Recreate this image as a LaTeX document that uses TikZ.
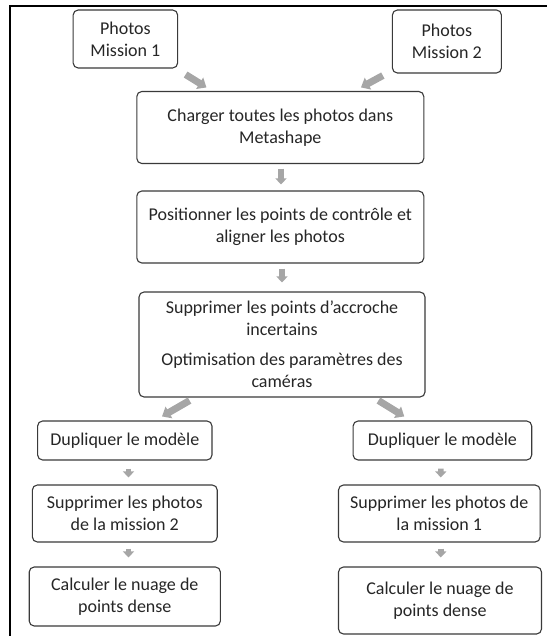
\documentclass[tikz,border=0pt]{standalone}
\usepackage{fontspec}
\setmainfont{Carlito}
\usetikzlibrary{arrows.meta,calc}
\definecolor{boxline}{HTML}{3A3A3A}
\definecolor{txt}{HTML}{262626}
\definecolor{arr}{HTML}{A6A6A6}
\begin{document}
\begin{tikzpicture}[x=1pt,y=-1pt,
  stepbox/.style={draw=boxline,line width=1.1pt,rounded corners=5pt,fill=white,
    align=center,text=txt,inner sep=0pt,
    font=\fontsize{18}{22}\selectfont},
  garrow/.style={draw=arr,line width=5.5pt,-{Triangle[width=11pt,length=6pt]}},
  darrow/.style={draw=arr,line width=7pt,-{Triangle[width=13pt,length=8pt]}}]
\useasboundingbox (0,0) rectangle (546,636);
\draw[line width=2.5pt,black] (10,640) -- (10,6) -- (550,6);

\node[stepbox,minimum width=104.5pt,minimum height=58pt] (m1) at (125.4,39) {Photos\\Mission 1};
\node[stepbox,minimum width=109pt,minimum height=63pt] (m2) at (446.9,41.5) {Photos\\Mission 2};
\node[stepbox,minimum width=287pt,minimum height=72pt] (charger) at (280.3,127.5) {Charger toutes les photos dans\\Metashape};
\node[stepbox,minimum width=287pt,minimum height=72pt] (pos) at (280.3,227) {Positionner les points de contrôle et\\aligner les photos};
\node[stepbox,minimum width=286pt,minimum height=105pt] (supp) at (282,344.5) {Supprimer les points d’accroche\\incertains\\[8pt]Optimisation des paramètres des\\caméras};
\node[stepbox,minimum width=174.4pt,minimum height=39pt] (dupL) at (124.8,440.5) {Dupliquer le modèle};
\node[stepbox,minimum width=178.6pt,minimum height=39pt] (dupR) at (442.4,440.5) {Dupliquer le modèle};
\node[stepbox,minimum width=184.9pt,minimum height=57pt] (suppL) at (124.8,513.5) {Supprimer les photos\\de la mission 2};
\node[stepbox,minimum width=201.6pt,minimum height=57pt] (suppR) at (439.3,513.5) {Supprimer les photos de\\la mission 1};
\node[stepbox,minimum width=191.2pt,minimum height=59pt] (calcL) at (124.8,596.5) {Calculer le nuage de\\points dense};
\node[stepbox,minimum width=203pt,minimum height=67pt] (calcR) at (440,600.5) {Calculer le nuage de\\points dense};

% diagonal arrows
\draw[darrow] ($(m1.south east)+(7.4,6)$) -- ($(charger.north west)+(70.2,-3.5)$);
\draw[darrow] ($(m2.south west)+(-9,2)$) -- ($(charger.north east)+(-63.4,-3.5)$);
\draw[darrow] ($(supp.south west)+(51.1,3)$) -- ($(dupL.north)+(37.2,-4)$);
\draw[darrow] ($(supp.south east)+(-47.1,3)$) -- ($(dupR.north)+(-38.1,-4)$);

% straight arrows
\draw[garrow] ($(charger.south)+(0.7,4.5)$) -- ($(pos.north)+(0.7,-6)$);
\draw[garrow] ($(pos.south)+(1.7,5)$) -- ($(supp.north)+(0,-9)$);
\draw[garrow] ($(dupL.south)+(3.7,8)$) -- ($(suppL.north)+(3.7,-7)$);
\draw[garrow] ($(suppL.south)+(3.7,6)$) -- ($(calcL.north)+(3.7,-9)$);
\draw[garrow] ($(dupR.south)+(-1.6,8)$) -- ($(suppR.north)+(1.5,-7)$);
\draw[garrow] ($(suppR.south)+(1.5,6)$) -- ($(calcR.north)+(0.8,-9)$);
\end{tikzpicture}
\end{document}
